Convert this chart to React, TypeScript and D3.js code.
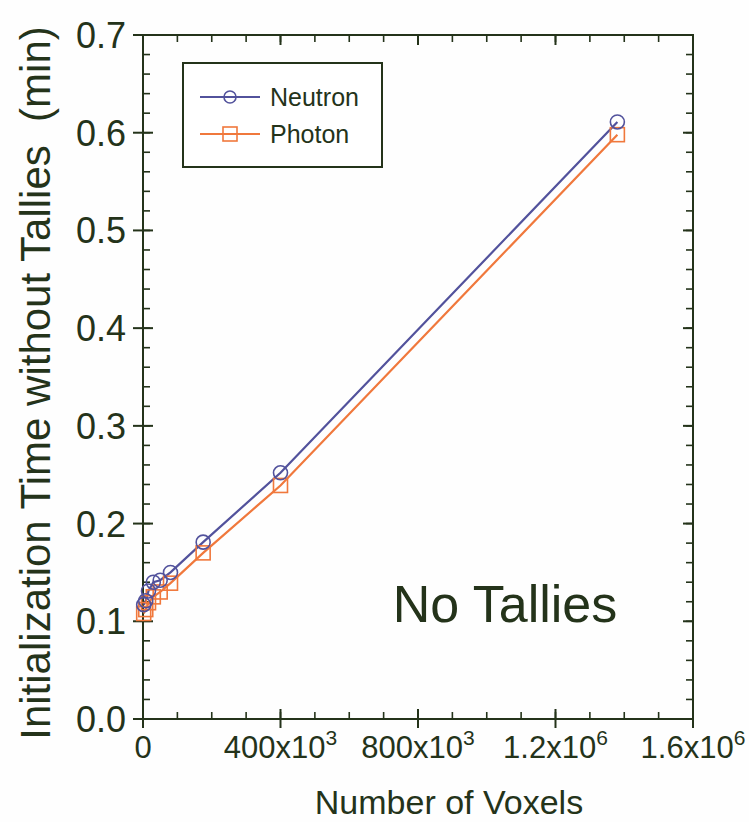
import React from 'react';
import * as d3 from 'd3';

const voxels = [2000, 8000, 16000, 30000, 50000, 80000, 175000, 400000, 1380000];
const neutron = [0.117, 0.121, 0.131, 0.140, 0.142, 0.150, 0.181, 0.252, 0.611];
const photon = [0.108, 0.112, 0.119, 0.125, 0.130, 0.139, 0.170, 0.239, 0.598];

const xMajor = [0, 400000, 800000, 1200000, 1600000];
const xMajorBase = ['0', '400x10', '800x10', '1.2x10', '1.6x10'];
const xMajorSup = ['', '3', '3', '6', '6'];
const yMajor = [0, 0.1, 0.2, 0.3, 0.4, 0.5, 0.6, 0.7];
const yMajorLabels = ['0.0', '0.1', '0.2', '0.3', '0.4', '0.5', '0.6', '0.7'];

const W = 749;
const H = 822;
const INK = '#24331a';
const NEUTRON = '#52529c';
const PHOTON = '#f0783c';
const FONT = 'Liberation Sans, Arial, Helvetica, sans-serif';

export default function App() {
  const x = d3.scaleLinear().domain([0, 1600000]).range([143, 693]);
  const y = d3.scaleLinear().domain([0, 0.7]).range([719, 35]);
  const xMinor = d3.range(0, 17).map((i) => i * 100000);
  const yMinor = d3.range(0, 36).map((i) => i * 0.02);

  const idx = d3.range(voxels.length);
  const lineN = d3.line<number>().x((i) => x(voxels[i])).y((i) => y(neutron[i]))(idx) || '';
  const lineP = d3.line<number>().x((i) => x(voxels[i])).y((i) => y(photon[i]))(idx) || '';

  const x0 = x(0), x1 = x(1600000), y0 = y(0), y1 = y(0.7);

  return (
    <svg width={W} height={H} style={{ position: 'absolute', left: 0, top: 0, background: '#fff' }} fontFamily={FONT}>
      <rect x={0} y={0} width={W} height={H} fill="#fefefe" />
      {/* frame */}
      <rect x={x0} y={y1} width={x1 - x0} height={y0 - y1} fill="none" stroke={INK} strokeWidth={2} />
      {/* minor ticks */}
      {xMinor.map((v) => (
        <g key={'xm' + v} stroke={INK} strokeWidth={1.6}>
          <line x1={x(v)} x2={x(v)} y1={y0} y2={y0 - 7} />
          <line x1={x(v)} x2={x(v)} y1={y1} y2={y1 + 7} />
        </g>
      ))}
      {yMinor.map((v) => (
        <g key={'ym' + v} stroke={INK} strokeWidth={1.6}>
          <line x1={x0} x2={x0 + 7} y1={y(v)} y2={y(v)} />
          <line x1={x1} x2={x1 - 7} y1={y(v)} y2={y(v)} />
        </g>
      ))}
      {/* major ticks */}
      {xMajor.map((v) => (
        <g key={'xM' + v} stroke={INK} strokeWidth={2}>
          <line x1={x(v)} x2={x(v)} y1={y0 + 9} y2={y0 - 10} />
          <line x1={x(v)} x2={x(v)} y1={y1} y2={y1 + 10} />
        </g>
      ))}
      {yMajor.map((v) => (
        <g key={'yM' + v} stroke={INK} strokeWidth={2}>
          <line x1={x0 - 10} x2={x0 + 10} y1={y(v)} y2={y(v)} />
          <line x1={x1} x2={x1 - 10} y1={y(v)} y2={y(v)} />
        </g>
      ))}
      {/* x tick labels */}
      {xMajor.map((v, i) => (
        <text key={'xl' + v} x={x(v)} y={758} textAnchor="middle" fontSize={31} fill={INK}>
          {xMajorBase[i]}
          {xMajorSup[i] && (
            <tspan fontSize={21} dy={-13}>{xMajorSup[i]}</tspan>
          )}
        </text>
      ))}
      {/* y tick labels */}
      {yMajor.map((v, i) => (
        <text key={'yl' + v} x={126} y={y(v) + 13} textAnchor="end" fontSize={36} fill={INK}>
          {yMajorLabels[i]}
        </text>
      ))}
      {/* axis titles */}
      <text x={449} y={814} textAnchor="middle" fontSize={34} fill={INK}>Number of Voxels</text>
      <text transform={`translate(50,383) rotate(-90)`} textAnchor="middle" fontSize={42} fill={INK}>
        {'Initialization Time without Tallies\u00a0\u00a0(min)'}
      </text>
      {/* series */}
      <path d={lineP} fill="none" stroke={PHOTON} strokeWidth={2.2} />
      <path d={lineN} fill="none" stroke={NEUTRON} strokeWidth={2.2} />
      {idx.map((i) => (
        <rect key={'p' + i} x={x(voxels[i]) - 7} y={y(photon[i]) - 7} width={14} height={14} fill="none" stroke={PHOTON} strokeWidth={1.6} />
      ))}
      {idx.map((i) => (
        <circle key={'n' + i} cx={x(voxels[i])} cy={y(neutron[i])} r={7} fill="none" stroke={NEUTRON} strokeWidth={1.6} />
      ))}
      {/* annotation */}
      <text x={505} y={622} textAnchor="middle" fontSize={52} fill={INK}>No Tallies</text>
      {/* legend */}
      <rect x={183} y={63} width={199} height={104} fill="#fff" stroke={INK} strokeWidth={2} />
      <line x1={200} x2={260} y1={97} y2={97} stroke={NEUTRON} strokeWidth={2.2} />
      <circle cx={230} cy={97} r={6} fill="none" stroke={NEUTRON} strokeWidth={1.6} />
      <text x={270} y={106} fontSize={25} fill={INK}>Neutron</text>
      <line x1={200} x2={260} y1={134} y2={134} stroke={PHOTON} strokeWidth={2.2} />
      <rect x={223} y={127} width={14} height={14} fill="none" stroke={PHOTON} strokeWidth={1.6} />
      <text x={270} y={143} fontSize={25} fill={INK}>Photon</text>
    </svg>
  );
}
